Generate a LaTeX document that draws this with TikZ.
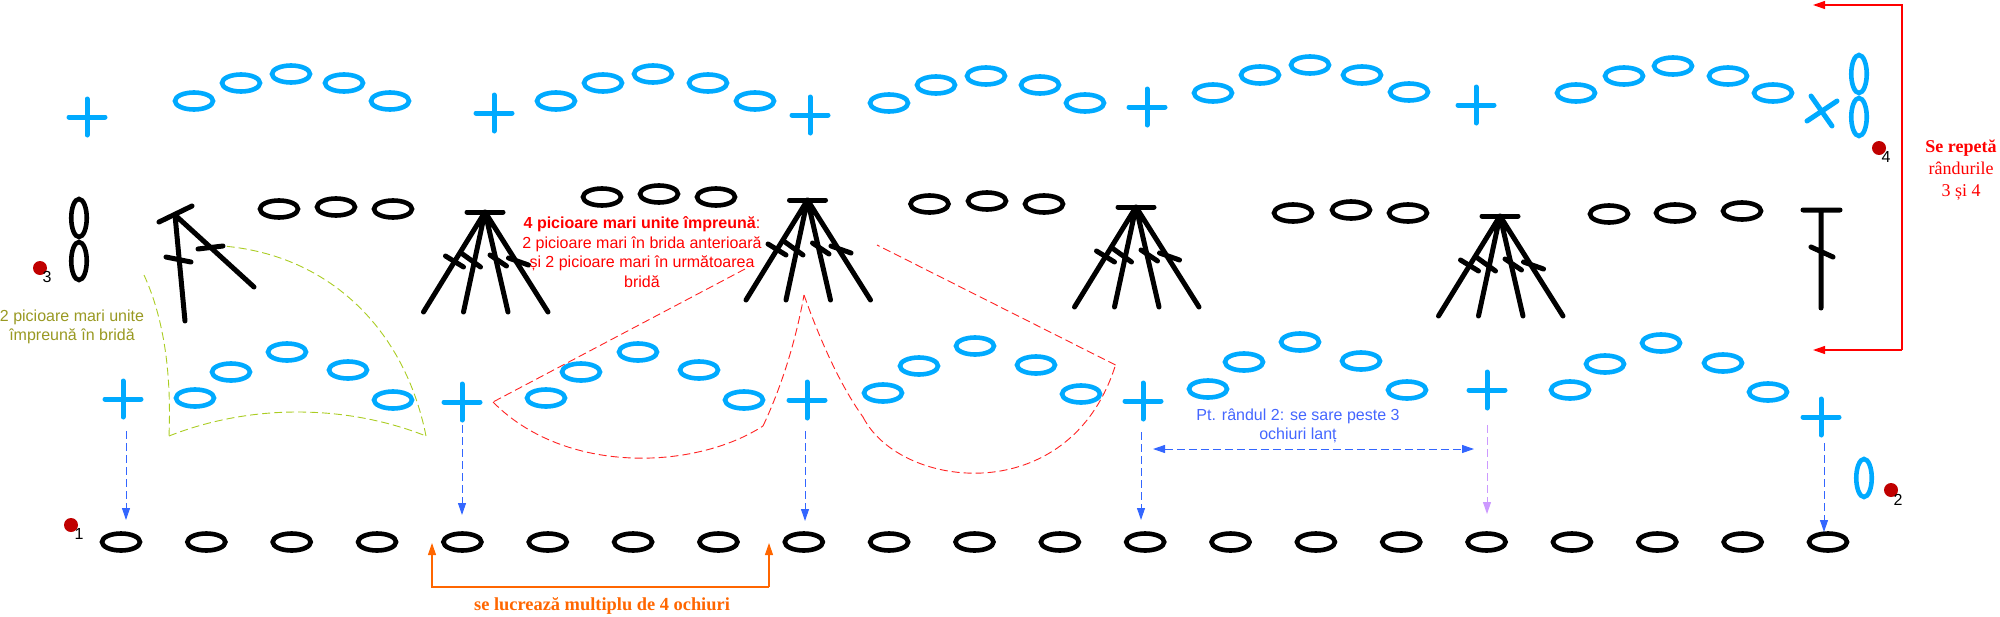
\documentclass[tikz,border=0pt]{standalone}
\usepackage{fontspec}
\setmainfont{Liberation Sans}
\newfontfamily\serifface{Liberation Serif}
\usetikzlibrary{arrows.meta,shapes.geometric}
\definecolor{skyst}{HTML}{00AAFF}
\definecolor{dotred}{HTML}{C00000}
\definecolor{olivetxt}{HTML}{999922}
\definecolor{greendash}{HTML}{AACC22}
\definecolor{reddash}{HTML}{FF2222}
\definecolor{bluearrow}{HTML}{3366FF}
\definecolor{bluetxt}{HTML}{4466FF}
\definecolor{lilac}{HTML}{CC99FF}
\definecolor{orangearrow}{HTML}{FF6600}
\tikzset{
  chainh/.style={draw=#1,ellipse,line width=4.6pt,minimum width=38pt,minimum height=17pt,inner sep=0pt},
  chainv/.style={draw=#1,ellipse,line width=4.6pt,minimum width=15.5pt,minimum height=38pt,inner sep=0pt},
  hb/.style={chainh=black},
  hc/.style={chainh=skyst},
  vb/.style={chainv=black},
  vc/.style={chainv=skyst},
  stk/.style={line width=5pt,line cap=round,line join=round},
  reddot/.style={circle,fill=dotred,minimum size=14pt,inner sep=0pt},
  numlab/.style={font=\fontsize{16}{19}\selectfont,inner sep=0pt},
  dasharrow/.style={line width=1pt,dash pattern=on 8pt off 4pt,-{Triangle[length=12pt,width=8pt]},draw=#1},
  bracket/.style={line width=1.1pt,draw=#1,-{Triangle[length=12pt,width=8pt]}},
  dashgreen/.style={draw=greendash,line width=.9pt,dash pattern=on 8pt off 4pt},
  dashred/.style={draw=reddash,line width=.9pt,dash pattern=on 8pt off 4pt},
  sanslab/.style={font=\fontsize{16}{19.5}\selectfont,align=center,inner sep=0pt},
  seriflab/.style={font=\serifface\fontsize{18}{22}\selectfont,align=center,inner sep=0pt},
  crossplus/.pic={\draw[stk,skyst] (-18,0) -- (18,0) (0,-18) -- (0,18);},
  cluster/.pic={
    \draw[stk] (-18,0) -- (18,0);
    \draw[stk] (-61.5,100) -- (0,0) -- (-21.5,100) (23,100) -- (0,0) -- (63,100);
    \draw[stk] (-39.5,44) -- (-21.5,55) (-22.5,42) -- (-4.5,55) (5,43) -- (21.5,54) (23.5,46) -- (43.5,53);
  }
}
\begin{document}
\begin{tikzpicture}[x=1pt,y=-1pt]
\useasboundingbox (0,0) rectangle (2000,616);

% row 1: foundation chain
\foreach \i in {0,...,20} {
  \pgfmathsetmacro{\xx}{121+85.35*\i}
  \node[hb] (f\i) at (\xx,542) {};
}
\node[reddot] (d1) at (71,525) {};
\node[numlab] (n1) at (79,534) {1};

% row 2
\pic at (123,399) {crossplus};
\pic at (462,402) {crossplus};
\pic at (807,400) {crossplus};
\pic at (1143,401) {crossplus};
\pic at (1487,390) {crossplus};
\pic at (1821,417) {crossplus};
\foreach \n/\x/\y in {a1/195/398,a2/231/372,a3/287/352,a4/348/370,a5/393/400,
  b1/546/398,b2/581/372,b3/638/352,b4/699/370,b5/744/400,
  c1/883/393,c2/919/366,c3/975/346,c4/1036/365,c5/1081/394,
  e1/1208/389,e2/1244/362,e3/1300/342,e4/1361/361,e5/1407/390,
  g1/1570/390,g2/1605/364,g3/1661/343,g4/1723/363,g5/1768/392}
  \node[hc] (\n) at (\x,\y) {};
\node[vc] (v2) at (1864,478) {};
\node[reddot] (d2) at (1891,490) {};
\node[numlab] (n2) at (1898,500) {2};

% row 3
\node[vb] (v3a) at (79,218) {};
\node[vb] (v3b) at (79,261) {};
\node[reddot] (d3) at (40,268) {};
\node[numlab] (n3) at (47,277) {3};
\draw[stk] (159,222) -- (192,206);
\draw[stk] (185,321) -- (175,215) -- (254,287);
\draw[stk] (166,257) -- (191,262) (198,249) -- (223,246);
\pic at (485,212) {cluster};
\pic at (807.5,200) {cluster};
\pic at (1136,207) {cluster};
\pic at (1500,216) {cluster};
\foreach \n/\x/\y in {h1/279/209,h2/336/207,h3/393/209,
  i1/602/197,i2/659/194,i3/716/197,
  j1/929.5/204,j2/987/201,j3/1044/204,
  k1/1293/213,k2/1351/210,k3/1408/213,
  l1/1609/214,l2/1675/213,l3/1742/211}
  \node[hb] (\n) at (\x,\y) {};
\draw[stk] (1803,210) -- (1840,210) (1821,210) -- (1821,308) (1811,247) -- (1833,257);

% row 4
\pic at (87,117) {crossplus};
\pic at (494,113) {crossplus};
\pic at (810,115) {crossplus};
\pic at (1147,107) {crossplus};
\pic at (1476,105) {crossplus};
\foreach \n/\x/\y in {m1/194/101,m2/241/83,m3/291/74,m4/344/83,m5/390/101,
  o1/556/101,o2/603/83,o3/653/74,o4/708/83,o5/755/101,
  p1/889/103,p2/936/85,p3/986/76,p4/1040/85,p5/1085/103,
  q1/1213/93,q2/1260/75,q3/1310/65,q4/1362/75,q5/1409/92,
  r1/1576/93,r2/1624/76,r3/1673/66,r4/1728/76,r5/1773/93}
  \node[hc] (\n) at (\x,\y) {};
\draw[stk,skyst] (1811,96) -- (1832,126) (1807,121) -- (1837,101);
\node[vc] (v4a) at (1859,74) {};
\node[vc] (v4b) at (1859,117) {};
\node[reddot] (d4) at (1879,148) {};
\node[numlab] (n4) at (1886,157) {4};

% dashed outlines
\draw[dashgreen] (144,275) .. controls (160,310) and (172,360) .. (169,436);
\draw[dashgreen] (169,436) .. controls (250,404) and (345,404) .. (426,436);
\draw[dashgreen] (426,436) .. controls (405,330) and (330,255) .. (223,246);
\draw[dashred] (745,269) -- (493,402);
\draw[dashred] (493,402) .. controls (565,475) and (695,470) .. (763,426);
\draw[dashred] (763,426) .. controls (780,390) and (795,345) .. (804,295);
\draw[dashred] (804,295) .. controls (820,340) and (840,385) .. (863,417);
\draw[dashred] (863,417) .. controls (900,490) and (1070,510) .. (1115.5,365);
\draw[dashred] (1115.5,365) -- (877,245);

% arrows
\coordinate (s1) at (126,431); \coordinate (t1) at (126,520);
\coordinate (s2) at (462,425); \coordinate (t2) at (462,515);
\coordinate (s3) at (805,431); \coordinate (t3) at (805,521);
\coordinate (s4) at (1141,432); \coordinate (t4) at (1141,520);
\coordinate (s5) at (1487,425); \coordinate (t5) at (1487,514);
\coordinate (s6) at (1824,443); \coordinate (t6) at (1824,532);
\coordinate (hl) at (1153,449); \coordinate (hr) at (1474,449);
\draw[dasharrow=bluearrow] (s1) -- (t1);
\draw[dasharrow=bluearrow] (s2) -- (t2);
\draw[dasharrow=bluearrow] (s3) -- (t3);
\draw[dasharrow=bluearrow] (s4) -- (t4);
\draw[dasharrow=lilac] (s5) -- (t5);
\draw[dasharrow=bluearrow] (s6) -- (t6);
\draw[dasharrow=bluearrow,{Triangle[length=12pt,width=8pt]}-{Triangle[length=12pt,width=8pt]}] (hl) -- (hr);

\coordinate (ra) at (1813,5); \coordinate (rb) at (1902,5);
\coordinate (rc) at (1902,350); \coordinate (rd) at (1813,350);
\draw[bracket=red] (rc) -- (rd);
\draw[bracket=red] (rc) -- (rb) -- (ra);
\coordinate (oa) at (432,543); \coordinate (ob) at (432,587);
\coordinate (oc) at (769,587); \coordinate (od) at (769,543);
\draw[bracket=orangearrow] (oc) -- (ob) -- (oa);
\draw[bracket=orangearrow] (oc) -- (od);

% labels
\node[sanslab,text=olivetxt] (lo) at (72,327) {2 picioare mari unite\\împreună în bridă};
\node[sanslab,text=red] (lr) at (642,252) {\textbf{4 picioare mari unite împreună}:\\2 picioare mari în brida anterioară\\și 2 picioare mari în următoarea\\bridă};
\node[sanslab,text=bluetxt] (lb) at (1298,426) {Pt. rândul 2: se sare peste 3\\ochiuri lanț};
\node[seriflab,text=red] (ls) at (1961,170) {\textbf{Se repetă}\\rândurile\\3 și 4};
\node[seriflab,font=\serifface\fontsize{18.4}{22}\selectfont,text=orangearrow] (lm) at (602,606) {\textbf{se lucrează multiplu de 4 ochiuri}};
\end{tikzpicture}
\end{document}
